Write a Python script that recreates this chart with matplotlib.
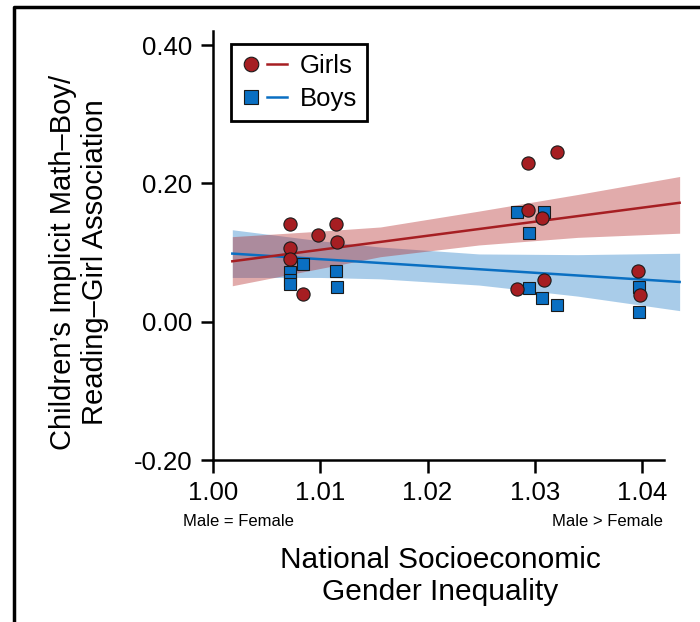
import matplotlib
matplotlib.use("Agg")
import matplotlib.pyplot as plt
from matplotlib.lines import Line2D
from matplotlib.legend_handler import HandlerTuple

plt.rcParams['font.family'] = ['Liberation Sans', 'DejaVu Sans']
plt.rcParams['axes.unicode_minus'] = False

# country means
girls_x = [1.0072, 1.0072, 1.0072, 1.0084, 1.0098, 1.0115, 1.0116,
           1.0283, 1.0294, 1.0294, 1.0307, 1.0309, 1.0321, 1.0396, 1.0398]
girls_y = [0.142, 0.107, 0.091, 0.040, 0.126, 0.142, 0.116,
           0.047, 0.229, 0.161, 0.150, 0.060, 0.245, 0.074, 0.039]
boys_x = [1.0072, 1.0072, 1.0072, 1.0084, 1.0115, 1.0116,
          1.0283, 1.0309, 1.0295, 1.0295, 1.0307, 1.0321, 1.0397, 1.0397]
boys_y = [0.072, 0.061, 0.055, 0.083, 0.074, 0.050,
          0.159, 0.159, 0.129, 0.049, 0.034, 0.024, 0.050, 0.014]

# fitted lines and confidence bands
fit_x = [1.0018, 1.0435]
girls_fit = [0.0874, 0.172]
boys_fit = [0.0985, 0.0575]

band_x = [1.0018, 1.010, 1.0156, 1.0248, 1.034, 1.0435]
girls_hi = [0.123, 0.131, 0.137, 0.160, 0.184, 0.210]
girls_lo = [0.052, 0.077, 0.094, 0.111, 0.122, 0.128]
boys_hi = [0.133, 0.117, 0.108, 0.098, 0.097, 0.099]
boys_lo = [0.064, 0.064, 0.062, 0.053, 0.037, 0.016]

x_ticks = [1.00, 1.01, 1.02, 1.03, 1.04]
x_labels = ["1.00", "1.01", "1.02", "1.03", "1.04"]
y_ticks = [-0.20, 0.00, 0.20, 0.40]
y_labels = ["-0.20", "0.00", "0.20", "0.40"]

RED = '#A61E22'
BLUE = '#0A6FC2'

W, H = 700, 622
fig = plt.figure(figsize=(7, 6.22), dpi=100)
ax = fig.add_axes([213 / W, 1 - 460 / H, 472 / W, 428.7 / H])

ax.fill_between(band_x, boys_lo, boys_hi, color=BLUE, alpha=0.35, linewidth=0)
ax.fill_between(band_x, girls_lo, girls_hi, color='#B22222', alpha=0.38, linewidth=0)
ax.plot(fit_x, boys_fit, color=BLUE, linewidth=1.8)
ax.plot(fit_x, girls_fit, color=RED, linewidth=1.8)

ax.plot(boys_x, boys_y, 's', color=BLUE, markersize=9, markeredgecolor='#1a1a1a',
        markeredgewidth=0.8, zorder=3)
ax.plot(girls_x, girls_y, 'o', color=RED, markersize=9.5, markeredgecolor='#1a1a1a',
        markeredgewidth=0.8, zorder=4)

ax.set_xlim(1.0, 1.044)
ax.set_ylim(-0.2, 0.42)
for s in ['top', 'right']:
    ax.spines[s].set_visible(False)
ax.spines['bottom'].set_bounds(1.0, 1.042)
ax.spines['left'].set_bounds(-0.2, 0.42)
for s in ['left', 'bottom']:
    ax.spines[s].set_linewidth(1.8)

ax.set_xticks(x_ticks, x_labels)
ax.set_yticks(y_ticks, y_labels)
ax.tick_params(direction='out', length=9, width=1.8, labelsize=18.5, pad=6)

# legend: marker + line side by side
g_h = (Line2D([], [], marker='o', linestyle='none', color=RED, markersize=10.5,
              markeredgecolor='#1a1a1a', markeredgewidth=0.8),
       Line2D([], [], color=RED, linewidth=1.8))
b_h = (Line2D([], [], marker='s', linestyle='none', color=BLUE, markersize=9.5,
              markeredgecolor='#1a1a1a', markeredgewidth=0.8),
       Line2D([], [], color=BLUE, linewidth=1.8))
leg = ax.legend([g_h, b_h], ["Girls", "Boys"],
                handler_map={tuple: HandlerTuple(ndivide=None, pad=0.25)},
                loc='upper left', bbox_to_anchor=(231 / W, 1 - 44 / H),
                bbox_transform=fig.transFigure, borderaxespad=0,
                fontsize=18.5, handlelength=1.8, handletextpad=0.5,
                labelspacing=0.35, borderpad=0.38, fancybox=False, framealpha=1)
leg.get_frame().set_edgecolor('black')
leg.get_frame().set_linewidth(2)

fig.text(183 / W, 1 - 522 / H, "Male = Female", fontsize=12, ha='left', va='center')
fig.text(663 / W, 1 - 522 / H, "Male > Female", fontsize=12, ha='right', va='center')

fig.text(440 / W, 1 - 576 / H, "National Socioeconomic\nGender Inequality",
         fontsize=21.5, ha='center', va='center', multialignment='center')
fig.text(79 / W, 1 - 262 / H, "Children\u2019s Implicit Math\u2013Boy/\nReading\u2013Girl Association",
         fontsize=21, ha='center', va='center', rotation=90, multialignment='center')

# outer frame (partly cropped in the original)
fig.add_artist(Line2D([14 / W, 14 / W, 1.0], [0.0, 1 - 7 / H, 1 - 7 / H],
                      transform=fig.transFigure, color='black', linewidth=2.5))

fig.savefig("out.png", dpi=100)
